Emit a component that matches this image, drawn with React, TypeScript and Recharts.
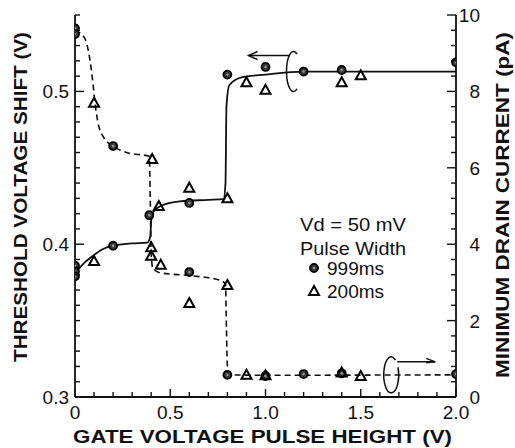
import { ComposedChart, Line, Scatter, XAxis, YAxis, ReferenceDot } from "recharts";

const FONT = "'Liberation Sans', Arial, Helvetica, sans-serif";
const INK = "#111";

// tick positions + which ones get a label
const xTicks = [0, 0.1, 0.2, 0.3, 0.4, 0.5, 0.6, 0.7, 0.8, 0.9, 1.0, 1.1, 1.2, 1.3, 1.4, 1.5, 1.6, 1.7, 1.8, 1.9, 2.0];
const xMajor = [0, 0.5, 1.0, 1.5, 2.0];
const xMajorLabels = ["0", "0.5", "1.0", "1.5", "2.0"];

const vTicks = [0.3, 0.31, 0.32, 0.33, 0.34, 0.35, 0.36, 0.37, 0.38, 0.39, 0.4, 0.41, 0.42, 0.43, 0.44, 0.45, 0.46, 0.47, 0.48, 0.49, 0.5, 0.51, 0.52, 0.53, 0.54, 0.55];
const vMajor = [0.3, 0.4, 0.5];
const vMajorLabels = ["0.3", "0.4", "0.5"];

const iTicks = [0, 0.4, 0.8, 1.2, 1.6, 2, 2.4, 2.8, 3.2, 3.6, 4, 4.4, 4.8, 5.2, 5.6, 6, 6.4, 6.8, 7.2, 7.6, 8, 8.4, 8.8, 9.2, 9.6, 10];
const iMajor = [0, 2, 4, 6, 8, 10];
const iMajorLabels = ["0", "2", "4", "6", "8", "10"];

// threshold voltage shift (V), left axis
const vt999X = [0, 0, 0, 0.2, 0.39, 0.6, 0.8, 1.0, 1.2, 1.4, 2.0];
const vt999Y = [0.386, 0.382, 0.379, 0.399, 0.419, 0.427, 0.511, 0.516, 0.513, 0.514, 0.519];
const vt200X = [0.1, 0.4, 0.44, 0.6, 0.8, 0.9, 1.0, 1.4, 1.5];
const vt200Y = [0.389, 0.398, 0.425, 0.437, 0.43, 0.506, 0.501, 0.506, 0.5105];
// hand-drawn guide curve through them
const vtFitX = [0, 0.05, 0.1, 0.15, 0.2, 0.3, 0.38, 0.395, 0.4, 0.41, 0.45, 0.55, 0.7, 0.78, 0.79, 0.795, 0.81, 0.87, 1.0, 1.2, 1.5, 2.0];
const vtFitY = [0.381, 0.388, 0.393, 0.397, 0.399, 0.4005, 0.401, 0.405, 0.415, 0.421, 0.425, 0.428, 0.429, 0.4295, 0.44, 0.49, 0.504, 0.509, 0.511, 0.513, 0.513, 0.513];

// minimum drain current (pA), right axis
const id999X = [0, 0, 0.2, 0.6, 0.8, 1.0, 1.2, 1.4, 2.0];
const id999Y = [9.65, 9.5, 6.57, 3.27, 0.58, 0.55, 0.6, 0.62, 0.6];
const id200X = [0.1, 0.405, 0.4, 0.45, 0.6, 0.8, 0.9, 1.0, 1.4, 1.5];
const id200Y = [7.7, 6.23, 3.7, 3.46, 2.46, 2.93, 0.58, 0.57, 0.64, 0.55];
const idFitX = [0, 0.05, 0.09, 0.105, 0.12, 0.15, 0.2, 0.27, 0.39, 0.395, 0.4, 0.41, 0.45, 0.6, 0.76, 0.79, 0.795, 0.8, 0.81, 1.0, 2.0];
const idFitY = [9.6, 9.4, 8.4, 7.7, 7.2, 6.8, 6.57, 6.4, 6.3, 5.2, 3.7, 3.35, 3.25, 3.18, 3.06, 2.95, 1.8, 0.8, 0.58, 0.57, 0.58];

const pts = (xs: number[], ys: number[]) => xs.map((x, k) => ({ x, y: ys[k] }));

function labelFor(v: number, majors: number[], labels: string[]) {
  const k = majors.findIndex((m) => Math.abs(m - v) < 1e-6);
  return k >= 0 ? labels[k] : null;
}

const tickText = { fontSize: 19, fontFamily: FONT, fill: INK };

const BottomTick = (p: any) => {
  const lab = labelFor(p.payload.value, xMajor, xMajorLabels);
  return (
    <g>
      <line x1={p.x} y1={p.y} x2={p.x} y2={p.y - (lab ? 8 : 5)} stroke={INK} strokeWidth={1.4} />
      {lab && (
        <text x={p.x} y={p.y + 22} textAnchor="middle" {...tickText}>
          {lab}
        </text>
      )}
    </g>
  );
};

const TopTick = (p: any) => {
  const lab = labelFor(p.payload.value, xMajor, xMajorLabels);
  return <line x1={p.x} y1={p.y} x2={p.x} y2={p.y + (lab ? 8 : 5)} stroke={INK} strokeWidth={1.4} />;
};

const LeftTick = (p: any) => {
  const lab = labelFor(p.payload.value, vMajor, vMajorLabels);
  return (
    <g>
      <line x1={p.x} y1={p.y} x2={p.x + (lab ? 9 : 5)} y2={p.y} stroke={INK} strokeWidth={1.4} />
      {lab && (
        <text x={p.x - 6} y={p.y + 7} textAnchor="end" {...tickText}>
          {lab}
        </text>
      )}
    </g>
  );
};

const RightTick = (p: any) => {
  const lab = labelFor(p.payload.value, iMajor, iMajorLabels);
  return (
    <g>
      <line x1={p.x} y1={p.y} x2={p.x - (lab ? 9 : 5)} y2={p.y} stroke={INK} strokeWidth={1.4} />
      {lab && (
        <text x={p.x + 24} y={p.y + 7} textAnchor="end" {...tickText}>
          {lab}
        </text>
      )}
    </g>
  );
};

const Dot999 = (p: any) => (
  <g>
    <circle cx={p.cx} cy={p.cy} r={4} fill="#3a3a3a" stroke="#000" strokeWidth={1.8} />
    <circle cx={p.cx} cy={p.cy} r={1.2} fill="#999" />
  </g>
);

const Tri200 = (p: any) => (
  <path
    d={`M${p.cx},${p.cy - 5} L${p.cx + 5},${p.cy + 4} L${p.cx - 5},${p.cy + 4} Z`}
    fill="none"
    stroke="#000"
    strokeWidth={2}
    strokeLinejoin="miter"
  />
);

// loop + arrow pointing at the left axis
const LeftLoop = (p: any) => {
  const { cx, cy } = p;
  const rx = 7, ry = 20;
  const a0 = (-60 * Math.PI) / 180, a1 = (60 * Math.PI) / 180;
  const d = `M${cx + rx * Math.cos(a0)},${cy + ry * Math.sin(a0)} A${rx},${ry} 0 1 0 ${cx + rx * Math.cos(a1)},${cy + ry * Math.sin(a1)}`;
  const ay = cy - 16;
  return (
    <g fill="none" stroke={INK} strokeWidth={1.5}>
      <path d={d} />
      <line x1={cx - 4} y1={ay} x2={cx - 45} y2={ay} />
      <path d={`M${cx - 36},${ay - 4} L${cx - 45},${ay} L${cx - 36},${ay + 4}`} />
    </g>
  );
};

// loop + arrow pointing at the right axis
const RightLoop = (p: any) => {
  const { cx, cy } = p;
  const rx = 7.5, ry = 18;
  const a0 = (-55 * Math.PI) / 180, a1 = (-25 * Math.PI) / 180;
  const d = `M${cx + rx * Math.cos(a0)},${cy + ry * Math.sin(a0)} A${rx},${ry} 0 1 0 ${cx + rx * Math.cos(a1)},${cy + ry * Math.sin(a1)}`;
  const ay = cy - 13;
  return (
    <g fill="none" stroke={INK} strokeWidth={1.5}>
      <path d={d} />
      <line x1={cx + 6} y1={ay} x2={cx + 44} y2={ay} />
      <path d={`M${cx + 35},${ay - 3.5} L${cx + 44},${ay} L${cx + 35},${ay + 1}`} />
    </g>
  );
};

const axisLine = { stroke: INK, strokeWidth: 1.8 };
const bold = { fontFamily: FONT, fontWeight: 700, fontSize: 19, fill: INK };
const reg = { fontFamily: FONT, fontSize: 19, fill: INK };

export default function App() {
  return (
    <div style={{ position: "absolute", left: 0, top: 0, width: 515, height: 448, background: "#fff" }}>
      <ComposedChart width={515} height={448} margin={{ top: 15, right: 0, bottom: 0, left: 0 }}>
        <XAxis
          xAxisId="bottom"
          dataKey="x"
          type="number"
          domain={[0, 2]}
          ticks={xTicks}
          interval={0}
          height={51}
          tickSize={0}
          tickMargin={0}
          tickLine={false}
          tick={(p: any) => <BottomTick {...p} />}
          axisLine={axisLine}
          allowDataOverflow
        />
        <XAxis
          xAxisId="top"
          orientation="top"
          dataKey="x"
          type="number"
          domain={[0, 2]}
          ticks={xTicks}
          interval={0}
          height={0}
          tickSize={0}
          tickMargin={0}
          tickLine={false}
          tick={(p: any) => <TopTick {...p} />}
          axisLine={axisLine}
          allowDataOverflow
        />
        <YAxis
          yAxisId="left"
          dataKey="y"
          type="number"
          domain={[0.3, 0.55]}
          ticks={vTicks}
          interval={0}
          width={75}
          tickSize={0}
          tickMargin={0}
          tickLine={false}
          tick={(p: any) => <LeftTick {...p} />}
          axisLine={axisLine}
          allowDataOverflow
        />
        <YAxis
          yAxisId="right"
          orientation="right"
          dataKey="y"
          type="number"
          domain={[0, 10]}
          ticks={iTicks}
          interval={0}
          width={59}
          tickSize={0}
          tickMargin={0}
          tickLine={false}
          tick={(p: any) => <RightTick {...p} />}
          axisLine={axisLine}
          allowDataOverflow
        />

        <Line
          xAxisId="bottom"
          yAxisId="left"
          data={pts(vtFitX, vtFitY)}
          dataKey="y"
          type="monotone"
          stroke={INK}
          strokeWidth={1.8}
          dot={false}
          isAnimationActive={false}
        />
        <Line
          xAxisId="bottom"
          yAxisId="right"
          data={pts(idFitX, idFitY)}
          dataKey="y"
          type="monotone"
          stroke={INK}
          strokeWidth={1.6}
          strokeDasharray="6 4"
          dot={false}
          isAnimationActive={false}
        />

        <Scatter xAxisId="bottom" yAxisId="left" data={pts(vt999X, vt999Y)} dataKey="y" shape={Dot999} isAnimationActive={false} />
        <Scatter xAxisId="bottom" yAxisId="left" data={pts(vt200X, vt200Y)} dataKey="y" shape={Tri200} isAnimationActive={false} />
        <Scatter xAxisId="bottom" yAxisId="right" data={pts(id999X, id999Y)} dataKey="y" shape={Dot999} isAnimationActive={false} />
        <Scatter xAxisId="bottom" yAxisId="right" data={pts(id200X, id200Y)} dataKey="y" shape={Tri200} isAnimationActive={false} />

        <ReferenceDot xAxisId="bottom" yAxisId="left" x={1.147} y={0.513} shape={LeftLoop} ifOverflow="visible" />
        <ReferenceDot xAxisId="bottom" yAxisId="right" x={1.66} y={0.58} shape={RightLoop} ifOverflow="visible" />
      </ComposedChart>

      <svg width={515} height={448} style={{ position: "absolute", left: 0, top: 0, pointerEvents: "none" }}>
        <text x={262.5} y={443} textAnchor="middle" textLength={379} lengthAdjust="spacingAndGlyphs" {...bold}>
          GATE VOLTAGE PULSE HEIGHT (V)
        </text>
        <text transform="translate(27,197) rotate(-90)" textAnchor="middle" textLength={330} lengthAdjust="spacingAndGlyphs" {...bold}>
          THRESHOLD VOLTAGE SHIFT (V)
        </text>
        <text transform="translate(509,205) rotate(-90)" textAnchor="middle" textLength={346} lengthAdjust="spacingAndGlyphs" {...bold}>
          MINIMUM DRAIN CURRENT (pA)
        </text>

        <text x={353} y={231} textAnchor="middle" textLength={106} lengthAdjust="spacingAndGlyphs" {...reg}>Vd = 50 mV</text>
        <text x={353} y={255} textAnchor="middle" textLength={106} lengthAdjust="spacingAndGlyphs" {...reg}>Pulse Width</text>
        <Dot999 cx={314} cy={268} />
        <text x={327} y={275} {...reg}>999ms</text>
        <Tri200 cx={314} cy={291} />
        <text x={327} y={298} {...reg}>200ms</text>
      </svg>
    </div>
  );
}
